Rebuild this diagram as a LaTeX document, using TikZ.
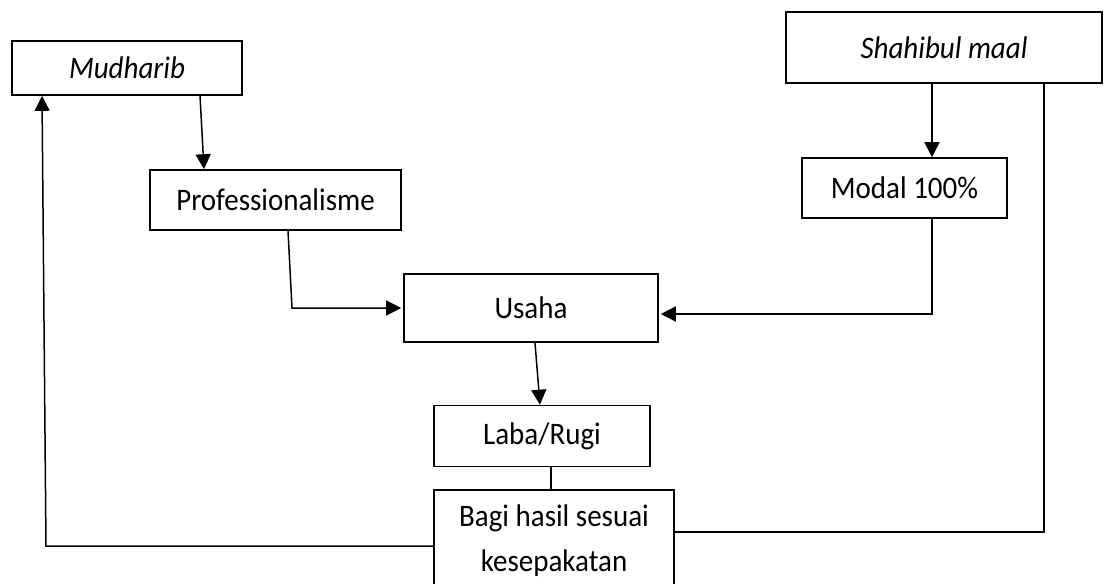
\documentclass[tikz,border=0pt]{standalone}
\usepackage{fontspec}
\usepackage{graphicx}
\setmainfont{Carlito}
\usetikzlibrary{arrows.meta}
\newcommand{\tallt}[1]{\scalebox{1}[1.08]{#1}}
\begin{document}
\begin{tikzpicture}[x=1pt,y=-1pt,
  box/.style={draw,line width=1.6pt,rectangle,inner sep=0pt,align=center,
    font=\fontsize{29}{42}\selectfont},
  conn/.style={line width=1.5pt},
  arr/.style={conn,-{Triangle[length=15pt,width=15pt]}}]
\useasboundingbox (0,0) rectangle (1104,584);
\node[box,minimum width=230pt,minimum height=54pt] (mud) at (127,68) {\tallt{\itshape Mudharib}};
\node[box,minimum width=251pt,minimum height=60pt] (prof) at (275.5,200) {\tallt{Professionalisme}};
\node[box,minimum width=316pt,minimum height=71pt] (shah) at (944,47.5) {\tallt{\itshape Shahibul maal}};
\node[box,minimum width=205pt,minimum height=60pt] (modal) at (904.5,188) {\tallt{Modal 100\%}};
\node[box,minimum width=254pt,minimum height=68pt] (usa) at (531,308) {\tallt{Usaha}};
\node[box,minimum width=216pt,minimum height=61pt] (laba) at (542,436) {\tallt{Laba/Rugi}};
\node[box,minimum width=240pt,minimum height=100pt] (bagi) at (554,540) {\tallt{\begin{tabular}{@{}c@{}}Bagi hasil sesuai\\kesepakatan\end{tabular}}};
\coordinate (c1) at (292,308);
\coordinate (c2) at (46,546);
\draw[arr] ([xshift=73pt]mud.south) -- ([xshift=-71.5pt]prof.north);
\draw[arr] ([xshift=12.5pt]prof.south) -- (c1) -- ([xshift=-2pt]usa.west);
\draw[arr] ([xshift=-12pt]shah.south) -- ([xshift=27.5pt]modal.north);
\draw[arr] ([xshift=27.5pt]modal.south) |- ([xshift=2pt,yshift=-6pt]usa.east);
\draw[arr] ([xshift=4pt]usa.south) -- ([xshift=-2pt]laba.north);
\draw[conn] ([xshift=9pt]laba.south) -- ([xshift=-3pt]bagi.north);
\draw[conn] ([xshift=100pt]shah.south) |- ([yshift=8pt]bagi.east);
\draw[arr] ([yshift=-6pt]bagi.west) -- (c2) -- ([xshift=-85pt]mud.south);
\end{tikzpicture}
\end{document}
